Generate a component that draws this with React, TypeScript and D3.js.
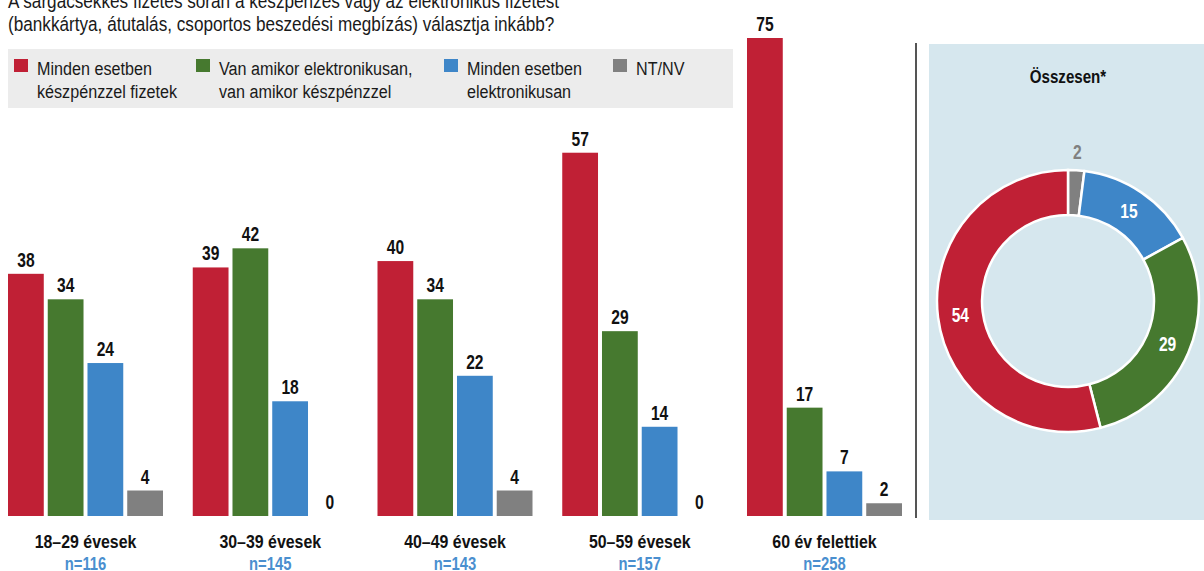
import React from 'react';
import * as d3 from 'd3';

// Age groups and sample sizes
const groups = ['18–29 évesek', '30–39 évesek', '40–49 évesek', '50–59 évesek', '60 év felettiek'];
const sampleSizes = [116, 145, 143, 157, 258];

// Series (legend order)
const seriesKeys = ['cash', 'mixed', 'electronic', 'dk'];
const seriesLabels = [
  ['Minden esetben', 'készpénzzel fizetek'],
  ['Van amikor elektronikusan,', 'van amikor készpénzzel'],
  ['Minden esetben', 'elektronikusan'],
  ['NT/NV'],
];

// Values (%) per age group
const cash = [38, 39, 40, 57, 75];
const mixed = [34, 42, 34, 29, 17];
const electronic = [24, 18, 22, 14, 7];
const dk = [4, 0, 4, 0, 2];

// Total ("Összesen*") donut, clockwise from top
const totalKeys = ['dk', 'electronic', 'mixed', 'cash'];
const totalValues = [2, 15, 29, 54];

const titleLines = [
  'A sárgacsekkes fizetés során a készpénzes vagy az elektronikus fizetést',
  '(bankkártya, átutalás, csoportos beszedési megbízás) választja inkább?',
];

const colors: Record<string, string> = {
  cash: '#c02035',
  mixed: '#46792f',
  electronic: '#3e86c8',
  dk: '#808080',
};

const font = '"Liberation Sans", Arial, sans-serif';

// text squeezed horizontally to mimic a narrow typeface
const NText: React.FC<{
  x: number;
  y: number;
  size: number;
  sx?: number;
  bold?: boolean;
  anchor?: 'start' | 'middle' | 'end';
  fill?: string;
  children: React.ReactNode;
}> = ({ x, y, size, sx = 0.82, bold, anchor = 'start', fill = '#111', children }) => (
  <g transform={`translate(${x},${y}) scale(${sx},1)`}>
    <text x={0} y={0} fontFamily={font} fontSize={size} fontWeight={bold ? 'bold' : 'normal'} textAnchor={anchor} fill={fill}>
      {children}
    </text>
  </g>
);

export default function App() {
  const width = 1204;
  const height = 571;
  const seriesData: Record<string, number[]> = { cash, mixed, electronic, dk };

  const x0 = d3.scaleBand<string>().domain(groups).range([8, 902]).paddingInner(0.161);
  const x1 = d3.scaleBand<string>().domain(seriesKeys).range([0, x0.bandwidth()]).paddingInner(0.1);
  const y = d3.scaleLinear().domain([0, 75]).range([516, 38]);

  const legendX = d3.scaleOrdinal<string, number>().domain(seriesKeys).range([14, 196, 444, 613]);

  const cx = 1068;
  const cy = 301;
  const outerR = 131;
  const innerR = 86;
  const pie = d3.pie<number>().sort(null).value(d => d);
  const arcs = pie(totalValues);
  const arc = d3.arc<d3.PieArcDatum<number>>().innerRadius(innerR).outerRadius(outerR);
  const labelArc = d3.arc<d3.PieArcDatum<number>>().innerRadius(innerR + 20).outerRadius(outerR - 20);
  const outsideArc = d3.arc<d3.PieArcDatum<number>>().innerRadius(outerR + 18).outerRadius(outerR + 18);

  return (
    <div style={{ position: 'fixed', left: 0, top: 0, width, height, overflow: 'hidden' }}>
      <svg width={width} height={height} style={{ display: 'block', background: '#fff' }}>
        {/* title, first line partly cut off at the top */}
        {titleLines.map((t, i) => (
          <NText key={i} x={8} y={8 + i * 23} size={19.5} sx={0.88} fill="#1a1a1a">
            {t}
          </NText>
        ))}

        {/* legend */}
        <rect x={8} y={49} width={725} height={59} fill="#ececec" />
        {seriesKeys.map((k, i) => (
          <g key={k} transform={`translate(${legendX(k)},0)`}>
            <rect x={0} y={59} width={14} height={13} fill={colors[k]} />
            {seriesLabels[i].map((line, j) => (
              <NText key={j} x={23} y={75 + j * 23} size={19} sx={0.85} fill="#1a1a1a">
                {line}
              </NText>
            ))}
          </g>
        ))}

        {/* grouped bars */}
        {groups.map((g, gi) => (
          <g key={g} transform={`translate(${x0(g)},0)`}>
            {seriesKeys.map(k => {
              const v = seriesData[k][gi];
              const bx = x1(k)!;
              return (
                <g key={k}>
                  {v > 0 && (
                    <rect x={bx} y={y(v)} width={x1.bandwidth()} height={y(0) - y(v)} fill={colors[k]} />
                  )}
                  <NText x={bx + x1.bandwidth() / 2} y={y(v) - 7} size={19.5} sx={0.8} bold anchor="middle">
                    {v}
                  </NText>
                </g>
              );
            })}
            <NText x={x0.bandwidth() / 2} y={548} size={18.5} sx={0.86} bold anchor="middle">
              {g}
            </NText>
            <NText x={x0.bandwidth() / 2} y={570} size={18.5} sx={0.8} bold anchor="middle" fill="#4a8fcf">
              {`n=${sampleSizes[gi]}`}
            </NText>
          </g>
        ))}

        {/* divider */}
        <line x1={916} x2={916} y1={43} y2={518} stroke="#555" strokeWidth={2} />

        {/* total panel */}
        <rect x={929} y={44} width={275} height={476} fill="#d6e7ee" />
        <NText x={cx} y={83} size={18} sx={0.84} bold anchor="middle">
          Összesen*
        </NText>
        <g transform={`translate(${cx},${cy})`}>
          {arcs.map((a, i) => (
            <path key={totalKeys[i]} d={arc(a)!} fill={colors[totalKeys[i]]} stroke="#fff" strokeWidth={2.5} />
          ))}
          {arcs.map((a, i) => {
            const small = a.value < 5;
            const [lx, ly] = small ? outsideArc.centroid(a) : labelArc.centroid(a);
            return (
              <NText
                key={`l-${i}`}
                x={lx}
                y={ly + 7}
                size={19.5}
                sx={0.8}
                bold
                anchor="middle"
                fill={small ? '#808080' : '#fff'}
              >
                {a.value}
              </NText>
            );
          })}
        </g>
      </svg>
    </div>
  );
}
